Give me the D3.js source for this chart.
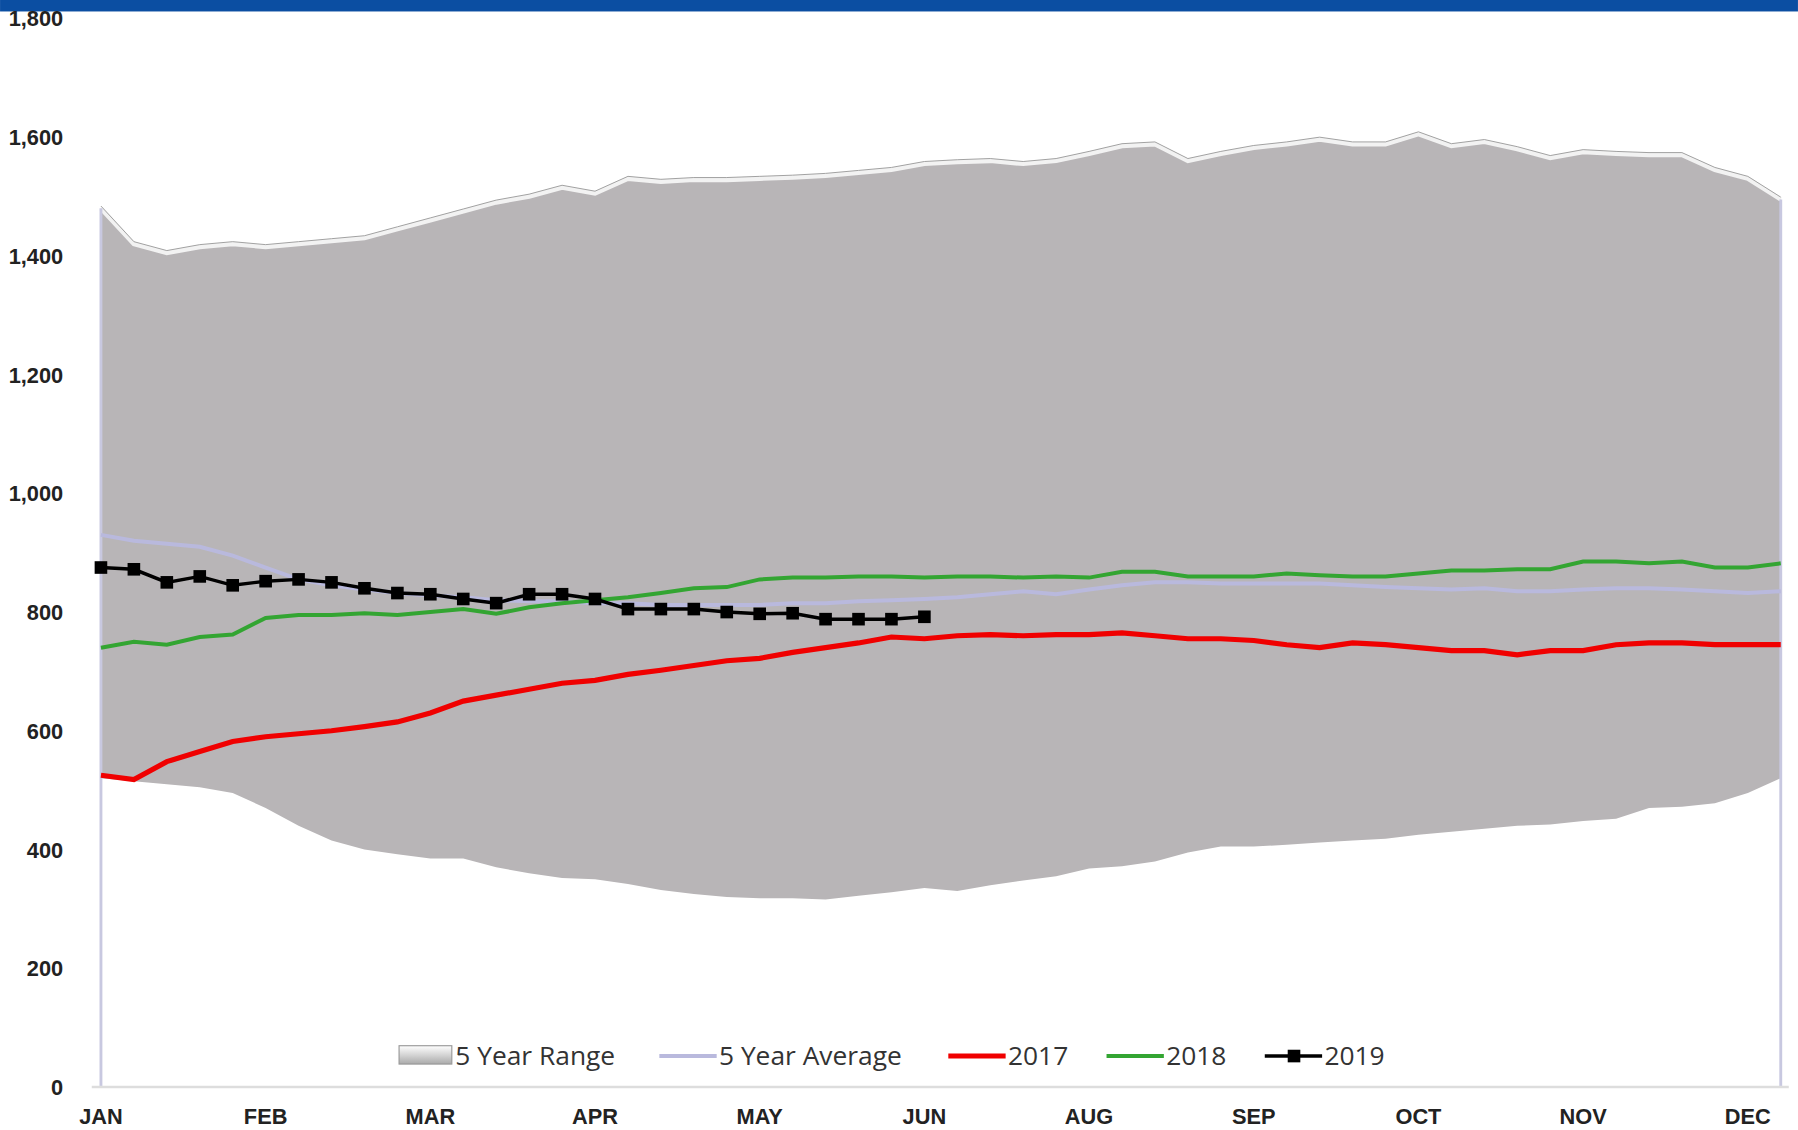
<!DOCTYPE html>
<html><head><meta charset="utf-8">
<script src="https://cdn.jsdelivr.net/npm/d3@7.9.0/dist/d3.min.js"></script>
<style>body{margin:0;background:#fff}svg{display:block}</style></head>
<body><svg id="chart" width="1798" height="1130" viewBox="0 0 1568 985.5"></svg>
<script>
const monthLabels = ['JAN','FEB','MAR','APR','MAY','JUN','AUG','SEP','OCT','NOV','DEC'];
const rangeHigh = [1480,1420,1405,1415,1420,1415,1420,1425,1430,1445,1460,1475,1490,1500,1515,1505,1530,1525,1528,1528,1530,1532,1535,1540,1545,1555,1558,1560,1555,1560,1572,1585,1588,1560,1572,1582,1588,1596,1588,1588,1605,1585,1592,1580,1565,1575,1572,1570,1570,1545,1530,1495];
const rangeLow = [520,515,510,505,495,470,440,415,400,392,385,385,370,360,352,350,342,332,325,320,318,318,316,322,328,335,330,340,348,355,368,372,380,395,405,405,408,412,415,418,425,430,435,440,442,448,452,470,472,478,495,520];
const avg5 = [930,920,915,910,895,875,855,845,838,832,828,825,820,818,818,815,815,812,812,812,812,815,815,818,820,822,825,830,835,830,838,845,850,850,848,848,848,848,845,842,840,838,840,835,835,838,840,840,838,835,832,835];
const y2017 = [525,518,548,565,582,590,595,600,607,615,630,650,660,670,680,685,695,702,710,718,722,732,740,748,758,755,760,762,760,762,762,765,760,755,755,752,745,740,748,745,740,735,735,728,735,735,745,748,748,745,745,745];
const y2018 = [740,750,745,758,762,790,795,795,798,795,800,805,797,808,815,820,825,832,840,842,855,858,858,860,860,858,860,860,858,860,858,868,868,860,860,860,865,862,860,860,865,870,870,872,872,885,885,882,885,875,875,882];
const y2019 = [875,872,850,860,845,852,855,850,840,832,830,822,815,830,830,822,805,805,805,800,797,798,788,788,788,792];
const yTicks = [0,200,400,600,800,1000,1200,1400,1600,1800];

const svg = d3.select('#chart');
const weeks = d3.range(rangeHigh.length);
const x = d3.scaleLinear().domain([0, weeks.length - 1]).range([88, 1553]);
const y = d3.scaleLinear().domain([0, 1800]).range([948, 16]);

svg.append('rect').attr('x', 0).attr('y', 0).attr('width', 1568).attr('height', 10).attr('fill', '#0b4ea2');

// 5 year range band
const area = d3.area().x((d, i) => x(i)).y0(d => y(d[0])).y1(d => y(d[1]));
const band = weeks.map(i => [rangeLow[i], rangeHigh[i]]);
svg.append('path').attr('d', area(band)).attr('fill', '#b8b5b7');
svg.append('path').attr('d', d3.line().x((d, i) => x(i)).y(d => y(d))(rangeHigh))
  .attr('fill', 'none').attr('stroke', '#f2f2f2').attr('stroke-width', 4);
svg.append('path').attr('d', d3.line().x((d, i) => x(i)).y(d => y(d) - 2)(rangeHigh))
  .attr('fill', 'none').attr('stroke', '#999').attr('stroke-width', 0.8);
[0, weeks.length - 1].forEach(i => {
  svg.append('line').attr('x1', x(i)).attr('x2', x(i)).attr('y1', y(0)).attr('y2', y(rangeHigh[i]))
    .attr('stroke', '#c8c8e0').attr('stroke-width', 2.5);
});

// axes
svg.append('line').attr('x1', 80).attr('x2', 1560).attr('y1', y(0)).attr('y2', y(0)).attr('stroke', '#ddd').attr('stroke-width', 2);
svg.append('g').selectAll('text').data(yTicks).join('text')
  .attr('x', 55).attr('y', d => y(d) + 7).attr('text-anchor', 'end')
  .attr('font-family', 'Liberation Sans, Arial, sans-serif').attr('font-weight', 'bold')
  .attr('font-size', 19).attr('fill', '#222').text(d3.format(','));
svg.append('g').selectAll('text').data(monthLabels).join('text')
  .attr('x', (d, i) => x(i * 5)).attr('y', 980).attr('text-anchor', 'middle')
  .attr('font-family', 'Liberation Sans, Arial, sans-serif').attr('font-weight', 'bold')
  .attr('font-size', 19).attr('fill', '#222').text(d => d);

// lines
const line = d3.line().x((d, i) => x(i)).y(d => y(d));
svg.append('path').attr('d', line(avg5)).attr('fill', 'none').attr('stroke', '#b9b9dd').attr('stroke-width', 3.5);
svg.append('path').attr('d', line(y2018)).attr('fill', 'none').attr('stroke', '#33a532').attr('stroke-width', 3.5);
svg.append('path').attr('d', line(y2017)).attr('fill', 'none').attr('stroke', '#f00000').attr('stroke-width', 4.5);
svg.append('path').attr('d', line(y2019)).attr('fill', 'none').attr('stroke', '#000').attr('stroke-width', 3);
svg.append('g').selectAll('rect').data(y2019).join('rect')
  .attr('x', (d, i) => x(i) - 5.5).attr('y', d => y(d) - 5.5).attr('width', 11).attr('height', 11).attr('fill', '#000');

// legend
const lg = svg.append('g').attr('font-family', 'Open Sans, sans-serif').attr('font-size', 23).attr('fill', '#333');
const ly = 921;
const grad = svg.append('defs').append('linearGradient').attr('id', 'lgGrad').attr('x1', 0).attr('x2', 0).attr('y1', 0).attr('y2', 1);
grad.append('stop').attr('offset', 0).attr('stop-color', '#fff');
grad.append('stop').attr('offset', 1).attr('stop-color', '#aaa');
lg.append('rect').attr('x', 348).attr('y', ly - 9).attr('width', 46).attr('height', 16).attr('fill', 'url(#lgGrad)').attr('stroke', '#999');
lg.append('text').attr('x', 397).attr('y', ly + 8).text('5 Year Range');
const items = [
  { x: 575, c: '#b9b9dd', w: 3.5, t: '5 Year Average' },
  { x: 827, c: '#f00000', w: 4.5, t: '2017' },
  { x: 965, c: '#33a532', w: 3.5, t: '2018' },
  { x: 1103, c: '#000', w: 3, t: '2019', m: true }
];
items.forEach(it => {
  lg.append('line').attr('x1', it.x).attr('x2', it.x + 50).attr('y1', ly).attr('y2', ly).attr('stroke', it.c).attr('stroke-width', it.w);
  if (it.m) lg.append('rect').attr('x', it.x + 20).attr('y', ly - 5.5).attr('width', 11).attr('height', 11).attr('fill', '#000');
  lg.append('text').attr('x', it.x + 52).attr('y', ly + 8).text(it.t);
});
</script></body></html>
